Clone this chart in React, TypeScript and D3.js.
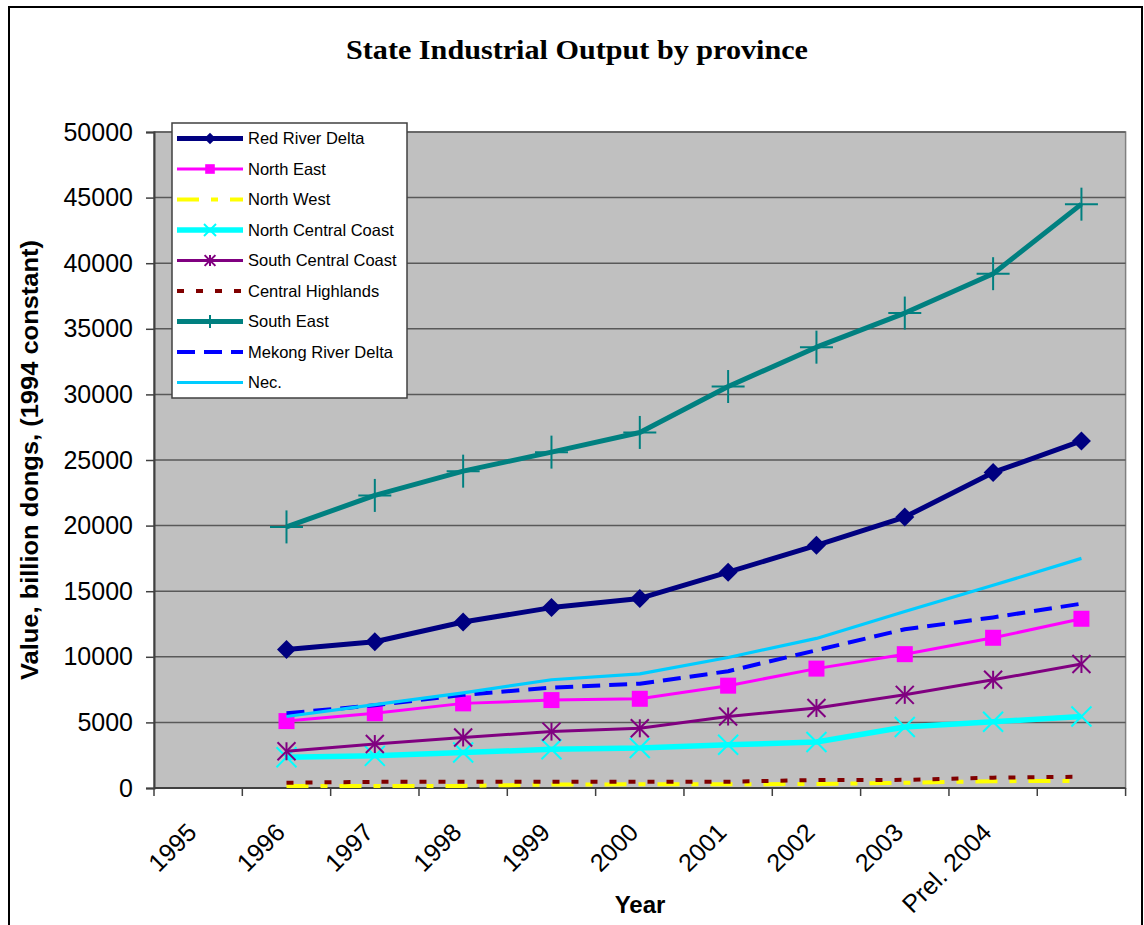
import React, { useEffect, useRef } from "react";
import * as d3 from "d3";

// category labels along the x axis (the last slot carries no label)
const categories = ["1995", "1996", "1997", "1998", "1999", "2000", "2001", "2002", "2003", "Prel. 2004", ""];

// values in billion dongs, 1994 constant prices
const redRiverDelta = [null, 10550, 11150, 12650, 13750, 14450, 16450, 18500, 20650, 24050, 26450];
const northEast = [null, 5100, 5700, 6450, 6700, 6800, 7800, 9100, 10200, 11450, 12900];
const northWest = [null, 150, 150, 160, 270, 280, 290, 300, 400, 520, 540];
const northCentralCoast = [null, 2350, 2450, 2700, 2950, 3050, 3300, 3500, 4650, 5050, 5450];
const southCentralCoast = [null, 2800, 3350, 3850, 4300, 4550, 5450, 6100, 7100, 8250, 9450];
const centralHighlands = [null, 400, 470, 480, 480, 480, 480, 610, 620, 790, 860];
const southEast = [null, 19900, 22300, 24150, 25600, 27100, 30600, 33600, 36200, 39200, 44500];
const mekongRiverDelta = [null, 5700, 6300, 7100, 7650, 7950, 8900, 10500, 12100, 13000, 14050];
const nec = [null, 5450, 6350, 7250, 8250, 8700, 9950, 11400, 13450, 15450, 17500];

const yTicks = [0, 5000, 10000, 15000, 20000, 25000, 30000, 35000, 40000, 45000, 50000];

type Series = {
  name: string;
  values: (number | null)[];
  color: string;
  width: number;
  dash?: string;
  marker?: "diamond" | "square" | "x" | "asterisk" | "plus";
};

const series: Series[] = [
  { name: "Red River Delta", values: redRiverDelta, color: "#000080", width: 5, marker: "diamond" },
  { name: "North East", values: northEast, color: "#FF00FF", width: 3, marker: "square" },
  { name: "North West", values: northWest, color: "#FFFF00", width: 4, dash: "22,12,7,12" },
  { name: "North Central Coast", values: northCentralCoast, color: "#00FFFF", width: 5.5, marker: "x" },
  { name: "South Central Coast", values: southCentralCoast, color: "#800080", width: 3, marker: "asterisk" },
  { name: "Central Highlands", values: centralHighlands, color: "#800000", width: 4, dash: "7,12" },
  { name: "South East", values: southEast, color: "#008080", width: 5, marker: "plus" },
  { name: "Mekong River Delta", values: mekongRiverDelta, color: "#0000FF", width: 4, dash: "18,9" },
  { name: "Nec.", values: nec, color: "#00CCFF", width: 3.2 },
];

const SANS = "'Liberation Sans', Arial, sans-serif";
const SERIF = "'Liberation Serif', 'Times New Roman', serif";

function drawMarker(g: any, type: string, cx: number, cy: number, color: string, k: number) {
  if (type === "diamond") {
    const r = 9.5 * k;
    g.append("path")
      .attr("d", `M${cx},${cy - r}L${cx + r},${cy}L${cx},${cy + r}L${cx - r},${cy}Z`)
      .attr("fill", color);
  } else if (type === "square") {
    const s = 16 * k;
    g.append("rect")
      .attr("x", cx - s / 2)
      .attr("y", cy - s / 2)
      .attr("width", s)
      .attr("height", s)
      .attr("fill", color);
  } else {
    const segs: number[][] = [];
    const h = (type === "plus" ? 16.5 : type === "x" ? 10 : 9) * k;
    if (type === "x" || type === "asterisk") {
      segs.push([-h, -h, h, h], [-h, h, h, -h]);
    }
    if (type === "asterisk" || type === "plus") {
      segs.push([0, -h, 0, h]);
    }
    if (type === "plus") {
      segs.push([-h, 0, h, 0]);
    }
    segs.forEach((s) => {
      g.append("line")
        .attr("x1", cx + s[0])
        .attr("y1", cy + s[1])
        .attr("x2", cx + s[2])
        .attr("y2", cy + s[3])
        .attr("stroke", color)
        .attr("stroke-width", 2);
    });
  }
}

export default function App() {
  const ref = useRef<SVGSVGElement>(null);

  useEffect(() => {
    const svg = d3.select(ref.current);
    svg.selectAll("*").remove();

    const left = 154;
    const right = 1125.6;
    const top = 132;
    const bottom = 788;

    const x = d3
      .scaleBand<number>()
      .domain(d3.range(categories.length))
      .range([left, right])
      .padding(0);
    const y = d3.scaleLinear().domain([0, 50000]).range([bottom, top]);
    const cx = (i: number) => (x(i) as number) + x.bandwidth() / 2;

    // chart frame
    svg
      .append("rect")
      .attr("x", 9)
      .attr("y", 7)
      .attr("width", 1133)
      .attr("height", 1000)
      .attr("fill", "#fff")
      .attr("stroke", "#000")
      .attr("stroke-width", 2);

    // title
    svg
      .append("text")
      .attr("x", 577)
      .attr("y", 59)
      .attr("text-anchor", "middle")
      .attr("font-family", SERIF)
      .attr("font-weight", "bold")
      .attr("font-size", 27)
      .attr("textLength", 462)
      .attr("lengthAdjust", "spacingAndGlyphs")
      .text("State Industrial Output by province");

    // plot area
    svg
      .append("rect")
      .attr("x", left)
      .attr("y", top)
      .attr("width", right - left)
      .attr("height", bottom - top)
      .attr("fill", "#C0C0C0")
      .attr("stroke", "#808080")
      .attr("stroke-width", 1.5);

    // gridlines
    svg
      .append("g")
      .selectAll("line")
      .data(yTicks.filter((t) => t > 0))
      .enter()
      .append("line")
      .attr("x1", left)
      .attr("x2", right)
      .attr("y1", (d) => y(d))
      .attr("y2", (d) => y(d))
      .attr("stroke", "#595959")
      .attr("stroke-width", 1.5);

    // y axis
    const yAxis = svg
      .append("g")
      .attr("transform", `translate(${left},0)`)
      .call(d3.axisLeft(y).tickValues(yTicks).tickSize(8).tickPadding(13).tickFormat(d3.format("d")));
    yAxis.select(".domain").attr("stroke", "#404040").attr("stroke-width", 2);
    yAxis.selectAll(".tick line").attr("stroke", "#404040").attr("stroke-width", 1.5);
    yAxis
      .selectAll(".tick text")
      .attr("font-family", SANS)
      .attr("font-size", 25)
      .attr("fill", "#000");

    // x axis line and ticks at category boundaries
    const xg = svg.append("g");
    xg.append("line")
      .attr("x1", left)
      .attr("x2", right)
      .attr("y1", bottom)
      .attr("y2", bottom)
      .attr("stroke", "#404040")
      .attr("stroke-width", 2);
    xg.selectAll(".xtick")
      .data(d3.range(categories.length + 1))
      .enter()
      .append("line")
      .attr("class", "xtick")
      .attr("x1", (i) => (i < categories.length ? (x(i) as number) : right))
      .attr("x2", (i) => (i < categories.length ? (x(i) as number) : right))
      .attr("y1", bottom)
      .attr("y2", bottom + 8)
      .attr("stroke", "#404040")
      .attr("stroke-width", 1.5);
    xg.selectAll(".xlabel")
      .data(categories)
      .enter()
      .append("text")
      .attr("class", "xlabel")
      .attr("transform", (d, i) => `translate(${cx(i)},834) rotate(-45)`)
      .attr("text-anchor", "end")
      .attr("font-family", SANS)
      .attr("font-size", 25)
      .text((d) => d);

    // axis titles
    svg
      .append("text")
      .attr("x", 640)
      .attr("y", 913)
      .attr("text-anchor", "middle")
      .attr("font-family", SANS)
      .attr("font-weight", "bold")
      .attr("font-size", 24)
      .text("Year");
    svg
      .append("text")
      .attr("transform", "translate(38,460) rotate(-90)")
      .attr("text-anchor", "middle")
      .attr("font-family", SANS)
      .attr("font-weight", "bold")
      .attr("font-size", 23)
      .attr("textLength", 440)
      .attr("lengthAdjust", "spacingAndGlyphs")
      .text("Value, billion dongs, (1994 constant)");

    // series
    const line = d3
      .line<number | null>()
      .defined((d) => d != null)
      .x((d, i) => cx(i))
      .y((d) => y(d as number));

    const plot = svg.append("g");
    series.forEach((s) => {
      plot
        .append("path")
        .datum(s.values)
        .attr("d", line as any)
        .attr("fill", "none")
        .attr("stroke", s.color)
        .attr("stroke-width", s.width)
        .attr("stroke-linejoin", "round")
        .attr("stroke-dasharray", s.dash || null);
      if (s.marker) {
        s.values.forEach((v, i) => {
          if (v != null) drawMarker(plot, s.marker as string, cx(i), y(v), s.color, 1);
        });
      }
    });

    // legend
    const lg = svg.append("g");
    lg.append("rect")
      .attr("x", 172)
      .attr("y", 123)
      .attr("width", 235)
      .attr("height", 275)
      .attr("fill", "#fff")
      .attr("stroke", "#404040")
      .attr("stroke-width", 1.5);
    series.forEach((s, i) => {
      const ly = 138.5 + i * 30.5;
      lg.append("line")
        .attr("x1", 177)
        .attr("x2", 243)
        .attr("y1", ly)
        .attr("y2", ly)
        .attr("stroke", s.color)
        .attr("stroke-width", s.width)
        .attr("stroke-dasharray", s.dash || null);
      if (s.marker) drawMarker(lg, s.marker, 210, ly, s.color, s.marker === "plus" ? 0.4 : 0.6);
      lg.append("text")
        .attr("x", 248)
        .attr("y", ly)
        .attr("dy", "0.35em")
        .attr("font-family", SANS)
        .attr("font-size", 16.5)
        .text(s.name);
    });
  }, []);

  return (
    <svg
      ref={ref}
      width={1144}
      height={925}
      style={{ position: "absolute", left: 0, top: 0, display: "block" }}
    />
  );
}
